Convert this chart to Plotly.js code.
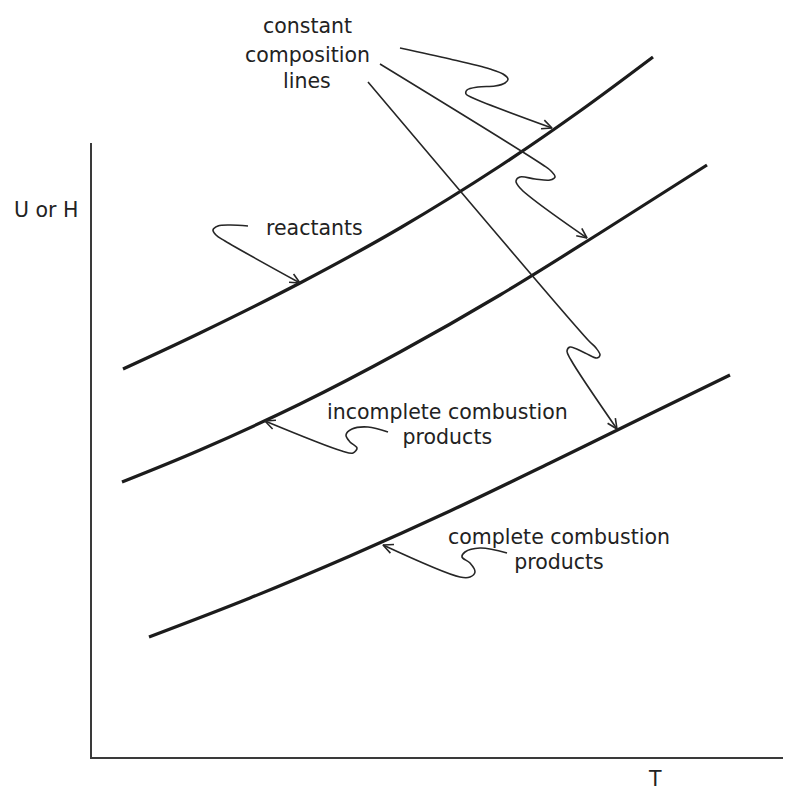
<!DOCTYPE html>
<html><head><meta charset="utf-8">
<script src="https://cdn.plot.ly/plotly-3.0.1.min.js"></script>
<style>html,body{margin:0;padding:0;background:#fff;} #chart{width:787px;height:794px;}</style>
</head><body><div id="chart"></div>
<script>
// Schematic: T increases to the right; vertical coordinate is measured downward (axis reversed)
// --- constant-composition curves ---
const reactantsT  = [123, 200, 300, 400, 500, 580, 653];
const reactantsU  = [369, 333, 283, 228, 166, 111, 57];
const incompleteT = [122, 200, 300, 400, 500, 600, 707];
const incompleteU = [482, 450, 404, 352, 295, 233, 165];
const completeT   = [149, 250, 350, 450, 550, 650, 730];
const completeU   = [637, 598, 556, 511, 463, 414, 375];

// --- callout arrows (wavy leader lines) ---
const arrowReactTopT = [400, 450, 490, 503, 508, 505, 495, 478, 467, 466, 473, 552];
const arrowReactTopU = [48, 59, 69, 74, 79, 83, 86, 87, 90, 94, 98, 128];
const arrowIncTopT   = [380, 543, 551, 555, 550, 535, 520, 516, 520, 587];
const arrowIncTopU   = [64, 165, 171, 177, 180, 179, 177, 181, 188, 238];
const arrowCompTopT  = [368, 588, 596, 600, 597, 585, 570, 567, 571, 617];
const arrowCompTopU  = [82, 340, 348, 355, 358, 353, 347, 351, 360, 429];
const arrowReactT    = [248, 230, 218, 213, 216, 225, 300];
const arrowReactU    = [226, 225, 226, 230, 235, 241, 283];
const arrowIncT      = [388, 368, 352, 346, 350, 357, 353, 342, 265];
const arrowIncU      = [432, 427, 429, 435, 442, 448, 453, 451, 421];
const arrowCompT     = [507, 480, 465, 462, 470, 475, 470, 460, 383];
const arrowCompU     = [553, 548, 552, 557, 563, 572, 577, 577, 545];

// --- text labels ---
const topLabel      = ["constant", "composition", "lines"];
const reactantLabel = ["reactants"];
const incLabel      = ["incomplete combustion", "products"];
const compLabel     = ["complete combustion", "products"];
const yAxisLabel = "U or H";
const xAxisLabel = "T";

const curveColor = '#1c1c1c';
const arrowColor = '#262626';
const textFont = {family: 'DejaVu Sans, Arial, sans-serif', size: 20.5, color: '#222222'};

function curve(xs, ys) {
  return {x: xs, y: ys, type: 'scatter', mode: 'lines', xaxis: 'x', yaxis: 'y',
    line: {color: curveColor, width: 3.2, shape: 'spline', smoothing: 1},
    hoverinfo: 'skip', showlegend: false};
}
function leader(xs, ys) {
  return {x: xs, y: ys, type: 'scatter', mode: 'lines', xaxis: 'x', yaxis: 'y',
    line: {color: arrowColor, width: 1.6, shape: 'spline', smoothing: 1.0},
    hoverinfo: 'skip', showlegend: false};
}
function head(xs, ys) {
  const n = xs.length, tx = xs[n-1], ty = ys[n-1];
  const dx = tx - xs[n-2], dy = ty - ys[n-2], len = Math.hypot(dx, dy);
  const ux = dx/len, uy = dy/len, L = 11, a = 25*Math.PI/180;
  const rot = t => [ux*Math.cos(t) - uy*Math.sin(t), ux*Math.sin(t) + uy*Math.cos(t)];
  const w1 = rot(a), w2 = rot(-a);
  return {x: [tx - L*w1[0], tx, tx - L*w2[0]], y: [ty - L*w1[1], ty, ty - L*w2[1]],
    type: 'scatter', mode: 'lines', xaxis: 'x', yaxis: 'y',
    line: {color: arrowColor, width: 1.6}, hoverinfo: 'skip', showlegend: false};
}

const arrows = [
  [arrowReactTopT, arrowReactTopU], [arrowIncTopT, arrowIncTopU], [arrowCompTopT, arrowCompTopU],
  [arrowReactT, arrowReactU], [arrowIncT, arrowIncU], [arrowCompT, arrowCompU]
];

const traces = [curve(reactantsT, reactantsU), curve(incompleteT, incompleteU), curve(completeT, completeU)];
arrows.forEach(([xs, ys]) => { traces.push(leader(xs, ys)); traces.push(head(xs, ys)); });
// empty trace that carries the visible U–T frame axes
traces.push({x: [], y: [], type: 'scatter', mode: 'lines', xaxis: 'x2', yaxis: 'y2', hoverinfo: 'skip', showlegend: false});

function note(text, x, y, extra) {
  return Object.assign({text: text, x: x, y: y, xref: 'x', yref: 'y', xanchor: 'center', yanchor: 'middle',
    align: 'center', showarrow: false, font: textFont}, extra || {});
}
// compact two-line label (line pitch ~25 px)
function tight(lines) {
  return lines.map(s => '<span style="font-size:20.5px">' + s + '</span>').join('<br>');
}
const tightFont = Object.assign({}, textFont, {size: 19.2});

const annotations = [
  note(topLabel[0], 307, 26), note(topLabel[1], 307, 55), note(topLabel[2], 307, 81),
  note(reactantLabel[0], 314, 228),
  note(tight(incLabel), 447.5, 424, {font: tightFont}),
  note(tight(compLabel), 558.5, 549, {font: tightFont}),
  note(yAxisLabel, 46, 210),
  note(xAxisLabel, 655, 793, {yanchor: 'bottom'})
];

const hidden = {visible: false, showgrid: false, zeroline: false, fixedrange: true};
const frameAxis = {showline: true, linecolor: '#3a3a3a', linewidth: 2, showgrid: false, zeroline: false,
  showticklabels: false, ticks: '', range: [0, 1], fixedrange: true};

const layout = {
  width: 787, height: 794,
  margin: {l: 0, r: 0, t: 0, b: 0},
  paper_bgcolor: '#ffffff', plot_bgcolor: 'rgba(0,0,0,0)',
  showlegend: false,
  xaxis: Object.assign({}, hidden, {domain: [0, 1], range: [0, 787]}),
  yaxis: Object.assign({}, hidden, {domain: [0, 1], range: [794, 0]}),
  xaxis2: Object.assign({}, frameAxis, {domain: [92/787, 783/787], anchor: 'y2'}),
  yaxis2: Object.assign({}, frameAxis, {domain: [37/794, 651/794], anchor: 'x2'}),
  annotations: annotations
};

Plotly.newPlot('chart', traces, layout, {staticPlot: true, displayModeBar: false});
</script>
</body></html>
